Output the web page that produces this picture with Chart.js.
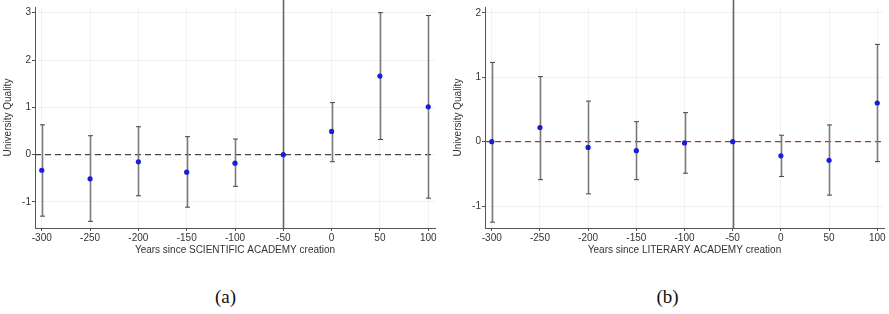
<!DOCTYPE html>
<html>
<head>
<meta charset="utf-8">
<script src="https://cdn.jsdelivr.net/npm/chart.js@4/dist/chart.umd.min.js"></script>
<style>
  body { margin: 0; background: #fff; width: 889px; height: 314px; overflow: hidden; position: relative; }
  .panel { position: absolute; top: 0; }
  .cap { position: absolute; top: 286px; width: 445px; text-align: center; font-family: "Liberation Serif", "DejaVu Serif", serif; font-size: 19px; color: #111; }
</style>
</head>
<body>
<div class="panel" style="left:0px"><canvas id="sci" width="440" height="270"></canvas></div>
<div class="panel" style="left:450px"><canvas id="lit" width="439" height="270"></canvas></div>
<div class="cap" style="left:3px">(a)</div>
<div class="cap" style="left:445px">(b)</div>
<script>
// years relative to academy creation, -50 is the reference period
const years = [-300, -250, -200, -150, -100, -50, 0, 50, 100];
const refYear = -50;

// (a) scientific academy
const sciEst = [-0.33, -0.51, -0.15, -0.37, -0.18, 0, 0.49, 1.66, 1.01];
const sciLow = [-1.3, -1.41, -0.87, -1.11, -0.67, null, -0.15, 0.32, -0.92];
const sciHigh = [0.63, 0.4, 0.59, 0.38, 0.33, null, 1.1, 3.0, 2.94];
const sciTicks = [-1, 0, 1, 2, 3];

// (b) literary academy
const litEst = [0, 0.22, -0.09, -0.14, -0.02, 0, -0.22, -0.29, 0.6];
const litLow = [-1.25, -0.59, -0.81, -0.59, -0.49, null, -0.54, -0.83, -0.31];
const litHigh = [1.23, 1.01, 0.63, 0.31, 0.45, null, 0.1, 0.26, 1.51];
const litTicks = [-1, 0, 1, 2];

function makePanel(id, est, low, high, yTicks, yMin, yMax, zeroColor, xTitle) {
  const ctx = document.getElementById(id);

  // zero line, reference line and error bars, drawn before the points
  const extras = {
    id: 'extras',
    beforeDatasetsDraw(chart) {
      const c = chart.ctx;
      const xs = chart.scales.x;
      const ys = chart.scales.y;
      const area = chart.chartArea;
      c.save();

      // dashed zero line
      const y0 = ys.getPixelForValue(0);
      c.strokeStyle = zeroColor;
      c.lineWidth = 1.3;
      c.setLineDash([6, 4]);
      c.beginPath();
      c.moveTo(area.left, y0);
      c.lineTo(area.right, y0);
      c.stroke();
      c.setLineDash([]);

      // reference period line
      const xr = Math.round(xs.getPixelForValue(refYear)) + 0.5;
      c.strokeStyle = '#666';
      c.lineWidth = 1.6;
      c.beginPath();
      c.moveTo(xr, 0);
      c.lineTo(xr, area.bottom);
      c.stroke();

      // confidence intervals
      years.forEach((yr, i) => {
        if (low[i] == null) return;
        const x = Math.round(xs.getPixelForValue(yr)) + 0.5;
        const yl = ys.getPixelForValue(low[i]);
        const yh = ys.getPixelForValue(high[i]);
        c.strokeStyle = '#7a7a7a';
        c.lineWidth = 1.6;
        c.beginPath();
        c.moveTo(x, yl);
        c.lineTo(x, yh);
        c.stroke();
        c.strokeStyle = '#444';
        c.lineWidth = 1;
        c.beginPath();
        c.moveTo(x - 2.5, yl);
        c.lineTo(x + 2.5, yl);
        c.moveTo(x - 2.5, yh);
        c.lineTo(x + 2.5, yh);
        c.stroke();
      });
      c.restore();
    }
  };

  new Chart(ctx, {
    type: 'scatter',
    data: {
      datasets: [{
        data: years.map((yr, i) => ({ x: yr, y: est[i] })),
        backgroundColor: '#1c1cd6',
        borderColor: '#1c1cd6',
        pointRadius: 2.6,
        borderWidth: 0
      }]
    },
    options: {
      responsive: false,
      animation: false,
      layout: { padding: { top: 5, right: 5, left: 0, bottom: 0 } },
      plugins: {
        legend: { display: false },
        tooltip: { enabled: false }
      },
      scales: {
        x: {
          type: 'linear',
          min: -307,
          max: 107,
          afterBuildTicks: (axis) => { axis.ticks = years.map(v => ({ value: v })); },
          afterFit: (scale) => { scale.height = 42; },
          grid: { color: 'rgba(0,0,0,0.05)', tickColor: '#555', tickLength: 3 },
          border: { color: '#555', width: 1 },
          ticks: {
            padding: 1,
            maxRotation: 0,
            color: '#333',
            font: { family: 'Liberation Sans', size: 10 }
          },
          title: {
            display: true,
            text: xTitle,
            color: '#333',
            padding: { top: 0, bottom: 14 },
            font: { family: 'Liberation Sans', size: 10 }
          }
        },
        y: {
          min: yMin,
          max: yMax,
          afterBuildTicks: (axis) => { axis.ticks = yTicks.map(v => ({ value: v })); },
          afterFit: (scale) => { scale.width = 35; },
          grid: { color: 'rgba(0,0,0,0.05)', tickColor: '#555', tickLength: 3 },
          border: { color: '#555', width: 1 },
          ticks: {
            padding: 1,
            color: '#333',
            font: { family: 'Liberation Sans', size: 10 }
          },
          title: {
            display: true,
            text: 'University Quality',
            color: '#333',
            padding: { top: 2, bottom: 0 },
            font: { family: 'Liberation Sans', size: 10 }
          }
        }
      }
    },
    plugins: [extras]
  });
}

makePanel('sci', sciEst, sciLow, sciHigh, sciTicks, -1.55, 3.12, '#444', 'Years since SCIENTIFIC ACADEMY creation');
makePanel('lit', litEst, litLow, litHigh, litTicks, -1.34, 2.09, '#8a4040', 'Years since LITERARY ACADEMY creation');
</script>
</body>
</html>
